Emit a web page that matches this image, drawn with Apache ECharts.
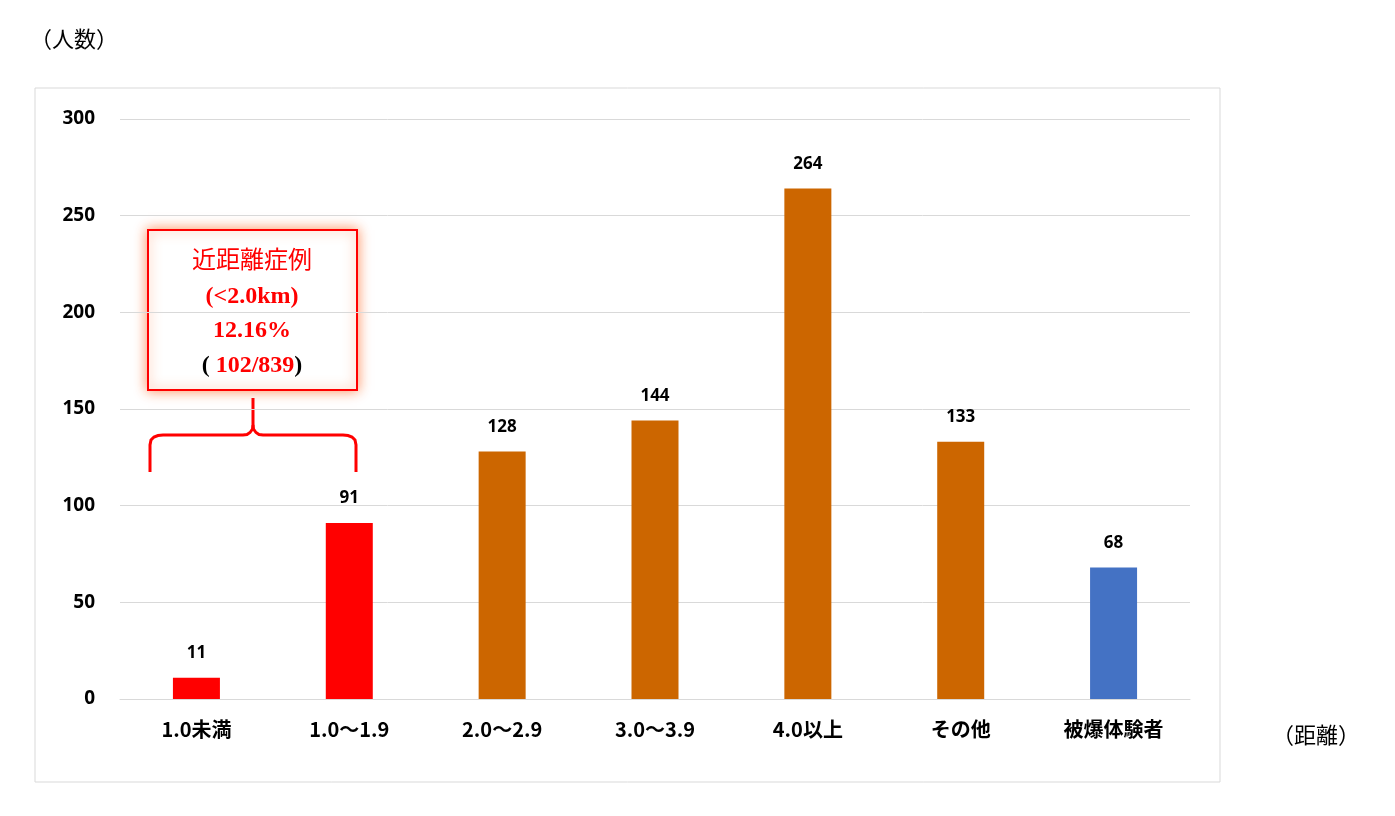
<!DOCTYPE html>
<html><head><meta charset="utf-8">
<script src="https://cdn.jsdelivr.net/npm/echarts@6/dist/echarts.min.js"></script>
<style>html,body{margin:0;padding:0;background:#fff}#c{width:1395px;height:816px}</style>
</head><body><div id="c"></div>
<script>
const categories=['1.0未満','1.0～1.9','2.0～2.9','3.0～3.9','4.0以上','その他','被爆体験者'];
const values=[11,91,128,144,264,133,68];
const colors=['#FF0000','#FF0000','#CC6600','#CC6600','#CC6600','#CC6600','#4472C4'];
const yTicks=[0,50,100,150,200,250,300];
const chart=echarts.init(document.getElementById('c'));
const serif='"Liberation Serif","Noto Sans CJK JP",serif';
chart.setOption({
  animation:false,
  grid:{left:120,right:205,top:119,bottom:117},
  xAxis:{type:'category',data:categories,axisTick:{show:false},
    axisLine:{lineStyle:{color:'#d9d9d9'}},
    axisLabel:{color:'#000',fontWeight:'bold',fontSize:20,margin:20,fontFamily:'"Noto Sans CJK JP",sans-serif'}},
  yAxis:{type:'value',min:yTicks[0],max:yTicks[yTicks.length-1],interval:50,
    splitLine:{lineStyle:{color:'#d9d9d9'}},
    axisLabel:{color:'#000',fontWeight:'bold',fontSize:19,margin:25,fontFamily:'"Noto Sans",sans-serif'}},
  series:[{type:'bar',barWidth:47,
    data:values.map((v,i)=>({value:v,itemStyle:{color:colors[i]}})),
    label:{show:true,position:'top',distance:16,color:'#000',fontWeight:'bold',fontSize:17,fontFamily:'"Noto Sans",sans-serif'}}],
  graphic:[
    {type:'rect',shape:{x:35,y:88,width:1185,height:694},style:{fill:'none',stroke:'#d9d9d9',lineWidth:1}},
    {type:'text',x:30,y:30,style:{text:'（人数）',font:'22px '+serif,fill:'#000'}},
    {type:'text',x:1272,y:726,style:{text:'（距離）',font:'22px '+serif,fill:'#000'}},
    {type:'rect',shape:{x:148,y:230,width:209,height:160},style:{fill:'#fff',stroke:'#FF0000',lineWidth:2,shadowBlur:12,shadowColor:'rgba(255,120,60,0.8)'}},
    {type:'text',x:252,y:262,style:{text:'近距離症例',align:'center',verticalAlign:'middle',font:'24px '+serif,fill:'#FF0000'}},
    {type:'text',x:252,y:297,style:{text:'(<2.0km)',align:'center',verticalAlign:'middle',font:'bold 24px '+serif,fill:'#FF0000'}},
    {type:'text',x:252,y:331,style:{text:'12.16%',align:'center',verticalAlign:'middle',font:'bold 24px '+serif,fill:'#FF0000'}},
    {type:'text',x:252,y:366,style:{rich:{b:{font:'bold 24px '+serif,fill:'#000'},r:{font:'bold 24px '+serif,fill:'#FF0000'}},text:'{b|( }{r|102/839}{b|)}',align:'center',verticalAlign:'middle'}},
    {type:'polyline',shape:{points:[[150,472],[150,445],[151,440],[154,437],[158,435.5],[163,435],[243,435],[247,434.5],[250,432.5],[252.5,429],[253,425],[253,398]]},style:{fill:'none',stroke:'#FF0000',lineWidth:3}},
    {type:'polyline',shape:{points:[[253,425],[253.5,429],[256,432.5],[259,434.5],[263,435],[343,435],[348,435.5],[352,437],[355,440],[356,445],[356,472]]},style:{fill:'none',stroke:'#FF0000',lineWidth:3}}
  ]
});
</script></body></html>
